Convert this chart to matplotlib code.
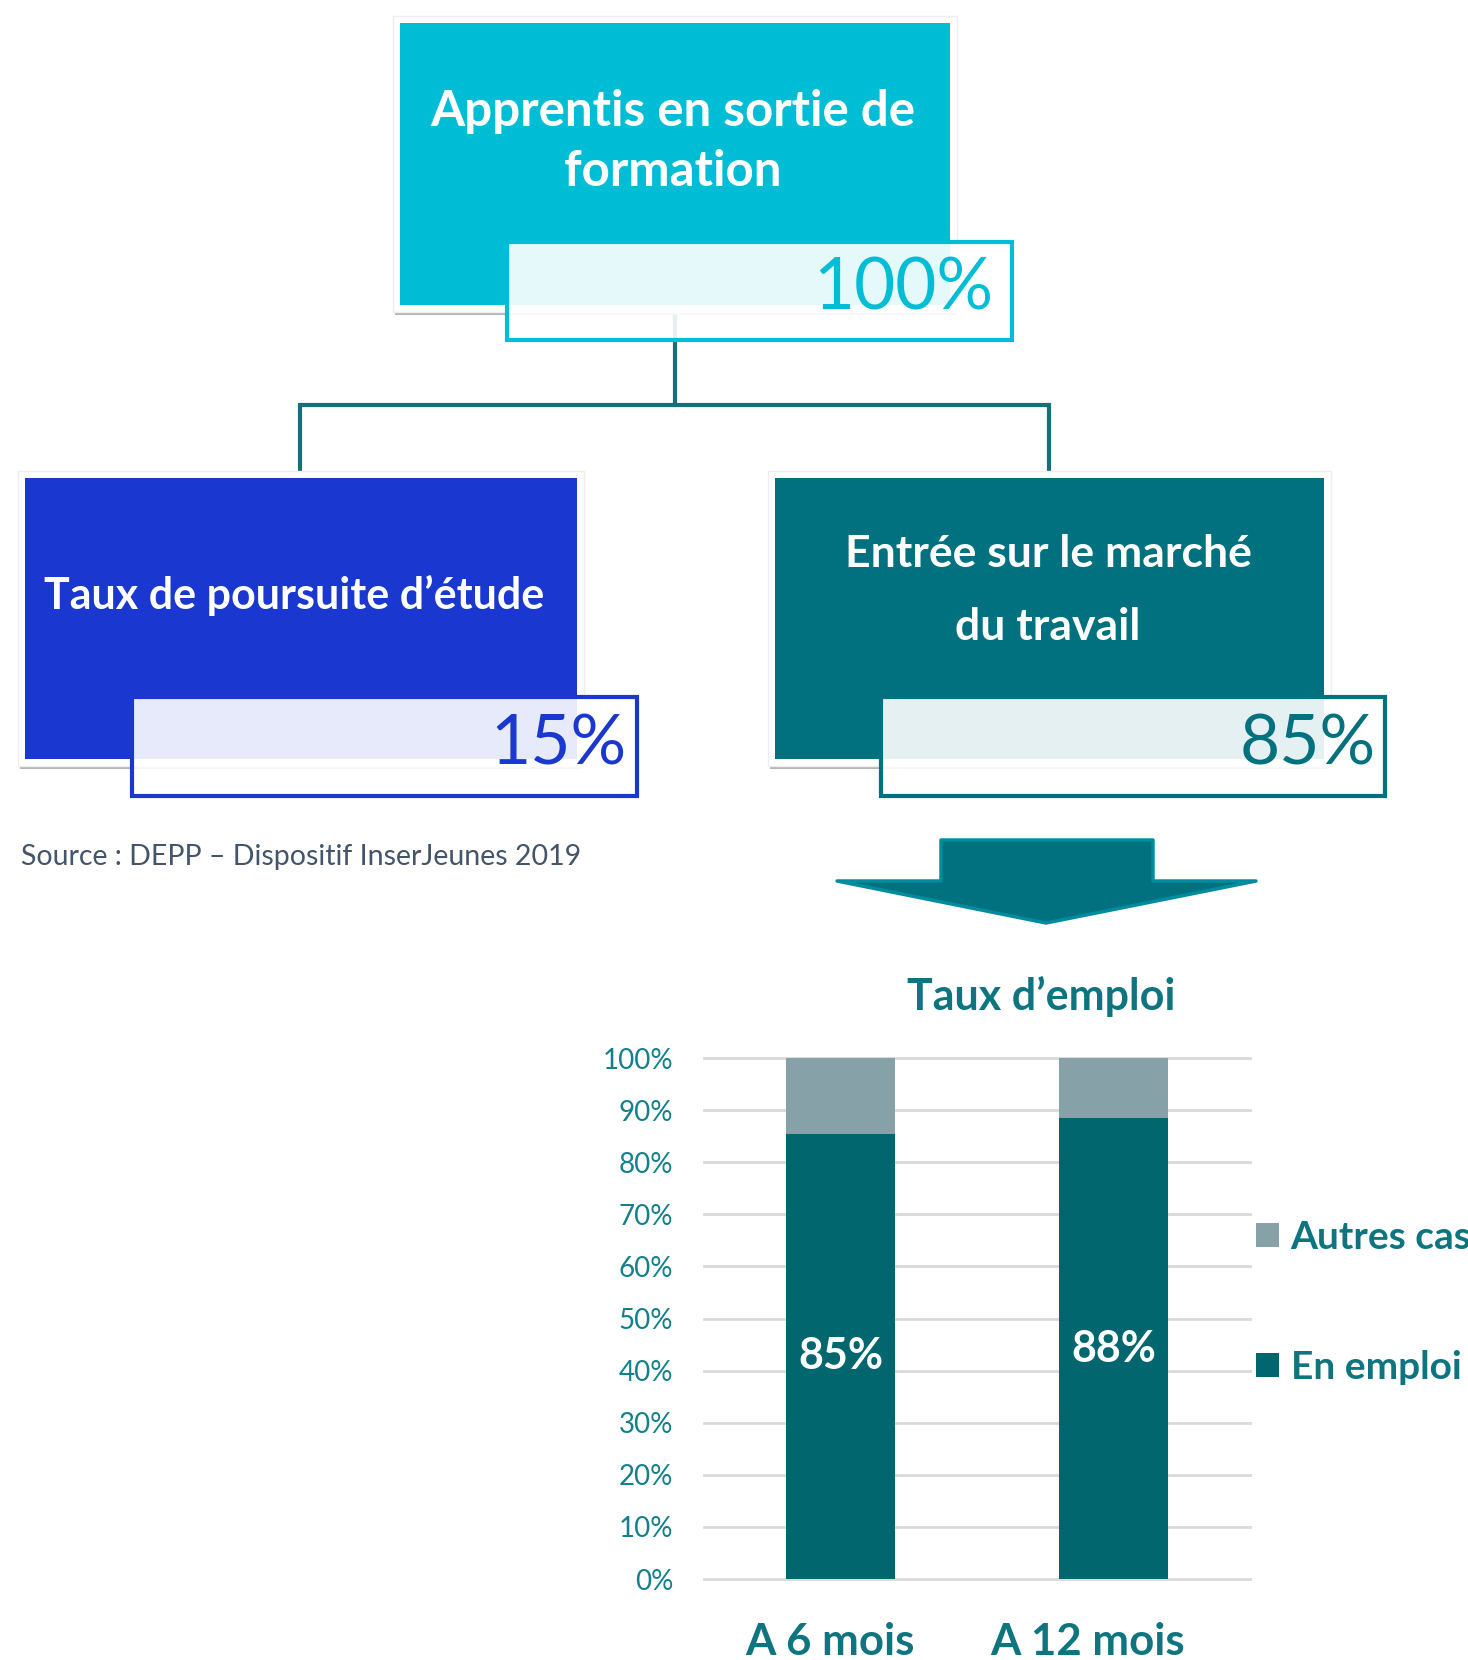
import matplotlib
matplotlib.use("Agg")
import matplotlib.pyplot as plt
import matplotlib.transforms as mtransforms
from matplotlib.patches import Rectangle, Polygon
import numpy as np

plt.rcParams['font.family'] = ['Lato', 'DejaVu Sans']

# ---------------------------------------------------------------- data
box_titles = [['Apprentis en sortie de', 'formation'],
              ['Taux de poursuite d\u2019étude'],
              ['Entrée sur le marché', 'du travail']]
box_percents = ['100%', '15%', '85%']
box_colors = ['#00BDD6', '#1A38CF', '#01717F']

categories = ['A 6 mois', 'A 12 mois']
en_emploi = [0.855, 0.884]
autres_cas = [0.145, 0.116]
bar_labels = ['85%', '88%']
yticks = np.arange(0, 1.01, 0.1)
ytick_labels = ['%d%%' % round(v * 100) for v in yticks]

TEAL = '#0E7480'
W, H = 1468, 1660

fig = plt.figure(figsize=(W / 100, H / 100), dpi=100)
ax = fig.add_axes([0, 0, 1, 1])
ax.set_xlim(0, W)
ax.set_ylim(H, 0)
ax.axis('off')

# connectors (drawn first so they sit behind the boxes)
ax.plot([675, 675], [300, 405], color='#16707A', lw=3, zorder=1)
ax.plot([300, 1049], [405, 405], color='#16707A', lw=3, zorder=1, solid_capstyle='butt')
ax.plot([300, 300], [405, 472], color='#16707A', lw=3, zorder=1)
ax.plot([1049, 1049], [405, 472], color='#16707A', lw=3, zorder=1)


def draw_box(x0, y0, x1, y1, color, lines, line_y, tx, fs, pbox, pct, pfs, pdx):
    # shadow + white frame + coloured panel
    ax.add_patch(Rectangle((x0 - 5, y0 - 2), x1 - x0 + 10, y1 - y0 + 12,
                           facecolor='#B4B4B4', edgecolor='none', zorder=2))
    ax.add_patch(Rectangle((x0 - 7, y0 - 7), x1 - x0 + 14, y1 - y0 + 14,
                           facecolor='white', edgecolor='#EEEEEE', lw=1, zorder=3))
    ax.add_patch(Rectangle((x0, y0), x1 - x0, y1 - y0, facecolor=color,
                           edgecolor='none', zorder=4))
    for txt, ty in zip(lines, line_y):
        ax.text(tx, ty, txt, color='white', fontsize=fs, fontweight='bold',
                ha='center', va='center', zorder=5)
    px0, py0, px1, py1 = pbox
    ax.add_patch(Rectangle((px0, py0), px1 - px0, py1 - py0, facecolor='white',
                           alpha=0.9, edgecolor='none', zorder=6))
    ax.add_patch(Rectangle((px0, py0), px1 - px0, py1 - py0, facecolor='none',
                           edgecolor=color, lw=3, zorder=7))
    ax.text(px1 - pdx, (py0 + py1) / 2 - 2, pct, color=color, fontsize=pfs,
            ha='right', va='center', zorder=8)


draw_box(400, 23, 950, 305, box_colors[0], box_titles[0], [112, 172], 673, 35.5,
         (507, 242, 1012, 340), box_percents[0], 51, 19)
draw_box(25, 478, 577, 759, box_colors[1], box_titles[1], [595], 294, 31,
         (132, 697, 637, 796), box_percents[1], 50, 11)
draw_box(775, 478, 1324, 759, box_colors[2], box_titles[2], [554, 627], 1048, 32,
         (881, 697, 1385, 796), box_percents[2], 50, 9)

ax.text(21, 857, 'Source : DEPP \u2013 Dispositif InserJeunes 2019', color='#44546A',
        fontsize=20.5, ha='left', va='center')

# arrow
arrow = Polygon([(941, 840), (1153, 840), (1153, 881), (1256, 881), (1046, 923),
                 (837, 881), (941, 881)], closed=True, facecolor='#01717F',
                edgecolor='#008C9E', lw=2.5, joinstyle='round', zorder=3)
ax.add_patch(arrow)

ax.text(1041, 996, 'Taux d\u2019emploi', color=TEAL, fontsize=31, fontweight='bold',
        ha='center', va='center')

# ---------------------------------------------------------------- bar chart
bx = fig.add_axes([704 / W, (H - 1579) / H, 546 / W, 521 / H])
x = np.arange(len(categories))
bx.bar(x, en_emploi, width=0.4, color='#02666F', zorder=3, label='En emploi')
bx.bar(x, autres_cas, width=0.4, bottom=en_emploi, color='#86A1A8', zorder=3,
       label='Autres cas')
for i, v in enumerate(en_emploi):
    bx.text(x[i], v / 2, bar_labels[i], color='white', fontsize=31, fontweight='bold',
            ha='center', va='center', zorder=4)

bx.set_xlim(-0.5, 1.5)
bx.set_ylim(0, 1)
bx.set_yticks(yticks)
bx.set_yticklabels(ytick_labels, color='#13808C', fontsize=20)
bx.tick_params(axis='y', length=0, pad=22)
bx.set_xticks(x)
bx.set_xticklabels(categories, color=TEAL, fontsize=31.5, fontweight='bold')
bx.tick_params(axis='x', length=0, pad=31)
for lab, dx in zip(bx.get_xticklabels(), [-11, -26]):
    lab.set_transform(lab.get_transform() + mtransforms.ScaledTranslation(dx / 100, 0, fig.dpi_scale_trans))
for sp in bx.spines.values():
    sp.set_visible(False)
bx.grid(axis='y', color='#D9D9D9', lw=2, zorder=0)
bx.set_axisbelow(True)
for gl in bx.get_ygridlines():
    gl.set_clip_on(False)
bx.patch.set_alpha(0)

# legend (reverse order: Autres cas on top)
handles, labels = bx.get_legend_handles_labels()
leg = fig.legend(handles[::-1], labels[::-1], loc='upper left',
                 bbox_to_anchor=(1240 / W, 1 - 1204 / H), frameon=False,
                 prop={'size': 28, 'weight': 'bold'}, labelcolor=TEAL,
                 handlelength=0.6, handleheight=0.6, handletextpad=0.3,
                 labelspacing=2.45, borderaxespad=0)

fig.savefig('out.png', dpi=100)
